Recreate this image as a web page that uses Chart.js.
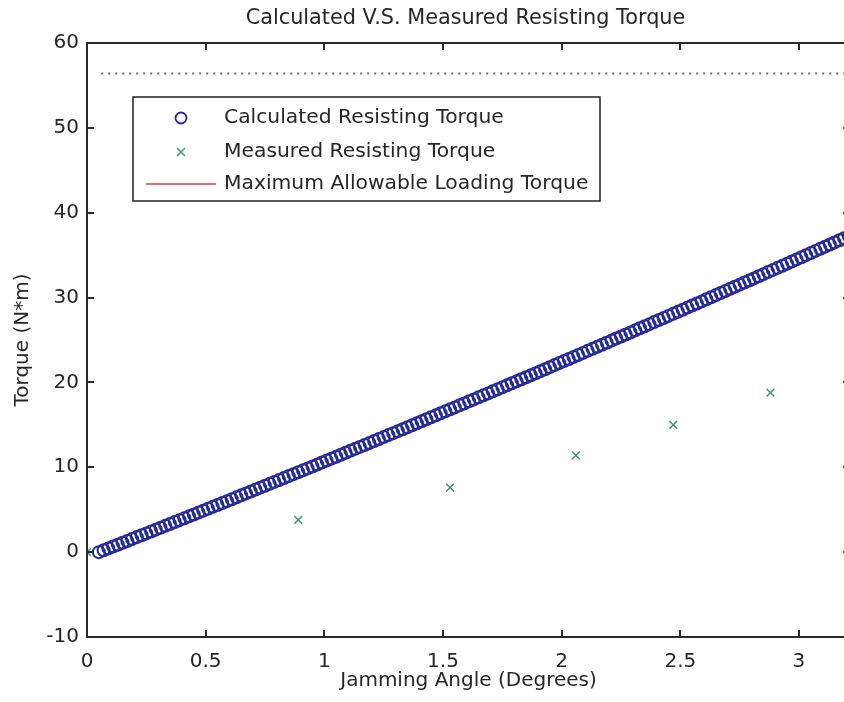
<!DOCTYPE html>
<html>
<head>
<meta charset="utf-8">
<script src="https://cdn.jsdelivr.net/npm/chart.js@4.4.1/dist/chart.umd.min.js"></script>
<style>
    html, body { margin: 0; padding: 0; background: #fff; }
    #wrap { width: 844px; height: 702px; overflow: hidden; position: relative; }
    canvas { display: block; }
</style>
</head>
<body>
<div id="wrap"><canvas id="chart-torque" width="860" height="702"></canvas></div>
<script>
const titleText = 'Calculated V.S. Measured Resisting Torque'
const xLabel = 'Jamming Angle (Degrees)'
const yLabel = 'Torque (N*m)'
const legendLabels = ['Calculated Resisting Torque', 'Measured Resisting Torque', 'Maximum Allowable Loading Torque']

const calcAngle = [
    0.05, 0.07, 0.09, 0.11, 0.13, 0.15, 0.17, 0.19, 0.21, 0.23,
    0.25, 0.27, 0.29, 0.31, 0.33, 0.35, 0.37, 0.39, 0.41, 0.43,
    0.45, 0.47, 0.49, 0.51, 0.53, 0.55, 0.57, 0.59, 0.61, 0.63,
    0.65, 0.67, 0.69, 0.71, 0.73, 0.75, 0.77, 0.79, 0.81, 0.83,
    0.85, 0.87, 0.89, 0.91, 0.93, 0.95, 0.97, 0.99, 1.01, 1.03,
    1.05, 1.07, 1.09, 1.11, 1.13, 1.15, 1.17, 1.19, 1.21, 1.23,
    1.25, 1.27, 1.29, 1.31, 1.33, 1.35, 1.37, 1.39, 1.41, 1.43,
    1.45, 1.47, 1.49, 1.51, 1.53, 1.55, 1.57, 1.59, 1.61, 1.63,
    1.65, 1.67, 1.69, 1.71, 1.73, 1.75, 1.77, 1.79, 1.81, 1.83,
    1.85, 1.87, 1.89, 1.91, 1.93, 1.95, 1.97, 1.99, 2.01, 2.03,
    2.05, 2.07, 2.09, 2.11, 2.13, 2.15, 2.17, 2.19, 2.21, 2.23,
    2.25, 2.27, 2.29, 2.31, 2.33, 2.35, 2.37, 2.39, 2.41, 2.43,
    2.45, 2.47, 2.49, 2.51, 2.53, 2.55, 2.57, 2.59, 2.61, 2.63,
    2.65, 2.67, 2.69, 2.71, 2.73, 2.75, 2.77, 2.79, 2.81, 2.83,
    2.85, 2.87, 2.89, 2.91, 2.93, 2.95, 2.97, 2.99, 3.01, 3.03,
    3.05, 3.07, 3.09, 3.11, 3.13, 3.15, 3.17, 3.19, 3.21
]
const calcTorque = [
    0.00, 0.22, 0.44, 0.66, 0.88, 1.10, 1.32, 1.54, 1.77, 1.99,
    2.21, 2.43, 2.65, 2.88, 3.10, 3.32, 3.55, 3.77, 3.99, 4.22,
    4.44, 4.66, 4.89, 5.11, 5.34, 5.56, 5.79, 6.01, 6.24, 6.46,
    6.69, 6.92, 7.14, 7.37, 7.60, 7.82, 8.05, 8.28, 8.50, 8.73,
    8.96, 9.19, 9.42, 9.64, 9.87, 10.10, 10.33, 10.56, 10.79, 11.02,
    11.25, 11.48, 11.71, 11.94, 12.17, 12.40, 12.63, 12.86, 13.10, 13.33,
    13.56, 13.79, 14.02, 14.26, 14.49, 14.72, 14.96, 15.19, 15.42, 15.66,
    15.89, 16.12, 16.36, 16.59, 16.83, 17.06, 17.30, 17.53, 17.77, 18.00,
    18.24, 18.48, 18.71, 18.95, 19.19, 19.42, 19.66, 19.90, 20.13, 20.37,
    20.61, 20.85, 21.09, 21.32, 21.56, 21.80, 22.04, 22.28, 22.52, 22.76,
    23.00, 23.24, 23.48, 23.72, 23.96, 24.20, 24.44, 24.68, 24.93, 25.17,
    25.41, 25.65, 25.89, 26.14, 26.38, 26.62, 26.87, 27.11, 27.35, 27.60,
    27.84, 28.08, 28.33, 28.57, 28.82, 29.06, 29.31, 29.55, 29.80, 30.04,
    30.29, 30.54, 30.78, 31.03, 31.28, 31.52, 31.77, 32.02, 32.26, 32.51,
    32.76, 33.01, 33.26, 33.50, 33.75, 34.00, 34.25, 34.50, 34.75, 35.00,
    35.25, 35.50, 35.75, 36.00, 36.25, 36.50, 36.75, 37.00, 37.26
]

const measAngle = [0, 0.89, 1.53, 2.06, 2.47, 2.88]
const measTorque = [0, 3.8, 7.6, 11.4, 15.0, 18.8]

const maxAngle = [0.06, 3.215]
const maxTorque = [56.4, 56.4]

const xTicks = [0, 0.5, 1, 1.5, 2, 2.5, 3]
const yTicks = [-10, 0, 10, 20, 30, 40, 50, 60]

const FONT = 'DejaVu Sans'
const TEXT = '#262626'
const BLUE = '#262a92'
const GREEN = '#3f8f70'
const RED = '#e03a3a'

const toPoints = (xs, ys) => xs.map((x, i) => ({ x: x, y: ys[i] }))

// frame, inward ticks, title and legend (matlab look)
const matlabBits = {
    id: 'matlabBits',
    afterDraw(chart) {
        const { ctx, chartArea: a, scales: { x, y } } = chart
        ctx.save()
        ctx.strokeStyle = '#2a2a2a'
        ctx.lineWidth = 2
        ctx.strokeRect(a.left, a.top, a.right - a.left, a.bottom - a.top)

        const len = 7
        ctx.beginPath()
        xTicks.forEach(v => {
            const px = Math.round(x.getPixelForValue(v))
            ctx.moveTo(px, a.bottom); ctx.lineTo(px, a.bottom - len)
            ctx.moveTo(px, a.top); ctx.lineTo(px, a.top + len)
        })
        yTicks.forEach(v => {
            const py = Math.round(y.getPixelForValue(v))
            ctx.moveTo(a.left, py); ctx.lineTo(a.left + len, py)
            ctx.moveTo(a.right, py); ctx.lineTo(a.right - len, py)
        })
        ctx.stroke()

        // title centred over the axes
        ctx.fillStyle = TEXT
        ctx.font = `20.8px "${FONT}"`
        ctx.textAlign = 'center'
        ctx.textBaseline = 'middle'
        ctx.fillText(titleText, (a.left + a.right) / 2 - 3, 19)

        // legend box
        const lx = 133, ly = 97, lw = 467, lh = 104
        ctx.fillStyle = '#fff'
        ctx.fillRect(lx, ly, lw, lh)
        ctx.lineWidth = 1.5
        ctx.strokeStyle = '#222'
        ctx.strokeRect(lx, ly, lw, lh)

        const rows = [118, 152, 184]
        ctx.lineWidth = 1.8
        ctx.strokeStyle = BLUE
        ctx.beginPath()
        ctx.arc(181, rows[0], 5.5, 0, Math.PI * 2)
        ctx.stroke()

        ctx.lineWidth = 1.5
        ctx.strokeStyle = GREEN
        ctx.beginPath()
        ctx.moveTo(177, rows[1] - 4); ctx.lineTo(185, rows[1] + 4)
        ctx.moveTo(185, rows[1] - 4); ctx.lineTo(177, rows[1] + 4)
        ctx.stroke()

        ctx.strokeStyle = RED
        ctx.beginPath()
        ctx.moveTo(146, rows[2]); ctx.lineTo(216, rows[2])
        ctx.stroke()

        ctx.fillStyle = TEXT
        ctx.font = `20.3px "${FONT}"`
        ctx.textAlign = 'left'
        legendLabels.forEach((t, i) => ctx.fillText(t, 224, rows[i]))
        ctx.restore()
    }
}

const ctx = document.getElementById('chart-torque').getContext('2d')

const chart = new Chart(ctx, {
    type: 'scatter',
    data: {
        datasets: [{
            type: 'line',
            label: legendLabels[2],
            data: toPoints(maxAngle, maxTorque),
            borderColor: '#66668a',
            borderWidth: 2,
            borderDash: [2, 5],
            pointRadius: 0,
            fill: false,
        }, {
            label: legendLabels[0],
            data: toPoints(calcAngle, calcTorque),
            pointStyle: 'circle',
            pointRadius: 6,
            pointBorderWidth: 2,
            pointBorderColor: BLUE,
            pointBackgroundColor: 'rgba(0,0,0,0)',
        }, {
            label: legendLabels[1],
            data: toPoints(measAngle, measTorque),
            pointStyle: 'crossRot',
            pointRadius: 5.5,
            pointBorderWidth: 1.5,
            pointBorderColor: GREEN,
        }]
    },
    options: {
        responsive: false,
        animation: false,
        devicePixelRatio: 1,
        layout: { padding: { top: 43, right: 10, left: 0, bottom: 0 } },
        plugins: {
            legend: { display: false },
            tooltip: { enabled: false },
            title: { display: false }
        },
        scales: {
            x: {
                type: 'linear',
                min: 0,
                max: 3.215,
                grid: { display: false },
                border: { display: false },
                ticks: {
                    stepSize: 0.5,
                    includeBounds: false,
                    padding: 5,
                    color: TEXT,
                    font: { family: FONT, size: 20 },
                    maxRotation: 0,
                    callback: v => xTicks.includes(v) ? String(v) : ''
                },
                title: {
                    display: true,
                    text: xLabel,
                    color: TEXT,
                    font: { family: FONT, size: 20 },
                    padding: { top: 0, bottom: 9 }
                },
                afterFit: scale => { scale.height = 65 }
            },
            y: {
                type: 'linear',
                min: -10,
                max: 60,
                grid: { display: false },
                border: { display: false },
                ticks: {
                    stepSize: 10,
                    padding: 0,
                    color: TEXT,
                    font: { family: FONT, size: 20 }
                },
                title: {
                    display: true,
                    text: yLabel,
                    color: TEXT,
                    font: { family: FONT, size: 20 },
                    padding: { top: 11, bottom: 0 }
                },
                afterFit: scale => { scale.width = 87 }
            }
        }
    },
    plugins: [matlabBits]
})
</script>
</body>
</html>
